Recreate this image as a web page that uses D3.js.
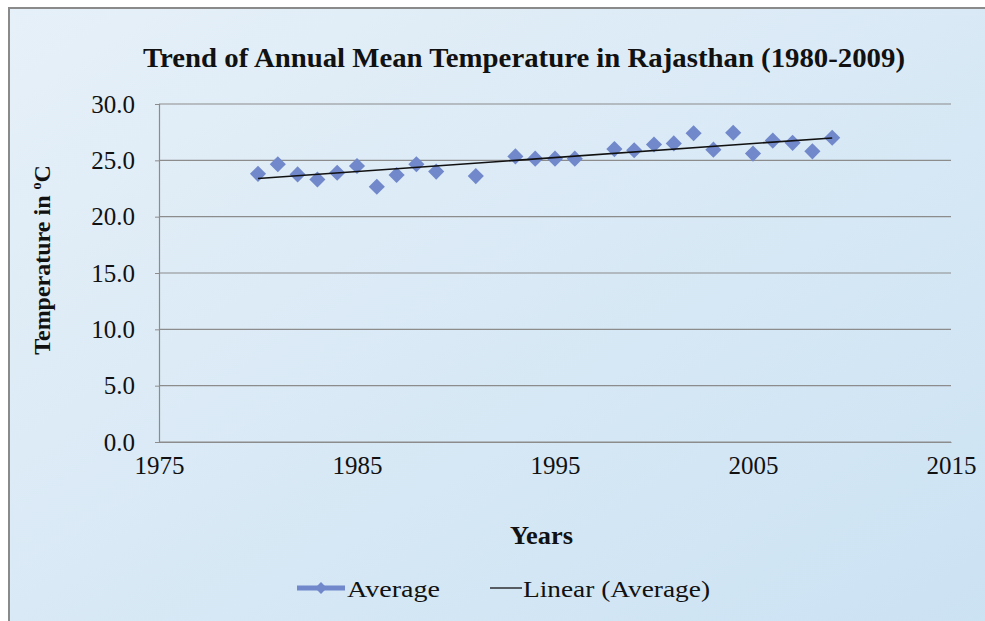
<!DOCTYPE html>
<meta charset="utf-8">
<script src="https://d3js.org/d3.v7.min.js"></script>
<style>
  body { margin: 0; background: #fff; }
  text { font-family: "Liberation Serif", "Times New Roman", serif; fill: #111; }
</style>
<body>
<div id="my_dataviz"></div>
<script>

// data
var years = [1980, 1981, 1982, 1983, 1984, 1985, 1986, 1987, 1988, 1989, 1991, 1993, 1994, 1995, 1996,
             1998, 1999, 2000, 2001, 2002, 2003, 2004, 2005, 2006, 2007, 2008, 2009];
var average = [23.8, 24.65, 23.75, 23.3, 23.9, 24.5, 22.65, 23.7, 24.65, 24.0, 23.6, 25.35, 25.15, 25.15, 25.15,
               26.0, 25.9, 26.4, 26.5, 27.4, 25.95, 27.45, 25.6, 26.75, 26.55, 25.8, 27.0];
var xTicks = [1975, 1985, 1995, 2005, 2015];
var yTicks = [0, 5, 10, 15, 20, 25, 30];

var W = 985, H = 621;
var margin = {top: 104, right: 34, bottom: 179, left: 159},
    width = W - margin.left - margin.right,
    height = H - margin.top - margin.bottom;

var svg = d3.select("#my_dataviz")
  .append("svg")
    .attr("width", W)
    .attr("height", H);

// background gradient
var grad = svg.append("defs").append("linearGradient")
    .attr("id", "bg")
    .attr("x1", "0%").attr("y1", "0%").attr("x2", "100%").attr("y2", "100%");
grad.append("stop").attr("offset", "0%").attr("stop-color", "#e6f0f8");
grad.append("stop").attr("offset", "100%").attr("stop-color", "#cbe2f3");

svg.append("rect")
    .attr("x", 9).attr("y", 8)
    .attr("width", W + 10).attr("height", H + 10)
    .attr("fill", "url(#bg)")
    .attr("stroke", "#8a8a8a")
    .attr("stroke-width", 2);

var g = svg.append("g")
    .attr("transform", "translate(" + margin.left + "," + margin.top + ")");

var x = d3.scaleLinear().domain([1975, 2015]).range([0, width]);
var y = d3.scaleLinear().domain([0, 30]).range([height, 0]);

// gridlines
g.selectAll("line.grid")
  .data(yTicks)
  .enter().append("line")
    .attr("class", "grid")
    .attr("x1", 0).attr("x2", width)
    .attr("y1", function(d) { return y(d); })
    .attr("y2", function(d) { return y(d); })
    .attr("stroke", "#8c8c8c")
    .attr("stroke-width", 1.2);

// Y axis
var yAxis = g.append("g")
    .call(d3.axisLeft(y).tickValues(yTicks).tickFormat(d3.format(".1f")).tickSize(4).tickPadding(20));
yAxis.select(".domain").attr("stroke", "#8c8c8c").attr("stroke-width", 1.2);
yAxis.selectAll(".tick line").attr("stroke", "#8c8c8c");
yAxis.selectAll("text")
    .style("font-size", "25px")
    .style("font-family", "Liberation Serif")
    .attr("fill", "#222");

// X axis
var xAxis = g.append("g")
    .attr("transform", "translate(0," + height + ")")
    .call(d3.axisBottom(x).tickValues(xTicks).tickFormat(d3.format("d")).tickSize(0).tickPadding(14));
xAxis.select(".domain").attr("stroke", "#8c8c8c").attr("stroke-width", 1.2);
xAxis.selectAll("text")
    .style("font-size", "25px")
    .style("font-family", "Liberation Serif")
    .attr("fill", "#222");

// linear trend (least squares on the series)
var mx = d3.mean(years), my = d3.mean(average);
var slope = d3.sum(years, function(v, i) { return (v - mx) * (average[i] - my); }) /
            d3.sum(years, function(v) { return (v - mx) * (v - mx); });
var icpt = my - slope * mx;
var trendX = d3.extent(years);

// diamonds
var diamond = d3.symbol().type(d3.symbolSquare).size(130);
g.append("g")
  .selectAll("path")
  .data(years)
  .enter()
  .append("path")
    .attr("d", diamond)
    .attr("transform", function(d, i) { return "translate(" + x(d) + "," + y(average[i]) + ") rotate(45)"; })
    .attr("fill", "#7188cb");

// trend line drawn over the markers as in the picture
g.append("line")
    .attr("x1", x(trendX[0])).attr("y1", y(icpt + slope * trendX[0]))
    .attr("x2", x(trendX[1])).attr("y2", y(icpt + slope * trendX[1]))
    .attr("stroke", "#111")
    .attr("stroke-width", 1.6);

// title
svg.append("text")
    .attr("x", 143).attr("y", 67)
    .attr("textLength", 762)
    .attr("lengthAdjust", "spacingAndGlyphs")
    .style("font-size", "27px")
    .style("font-weight", "bold")
    .text("Trend of Annual Mean Temperature in Rajasthan (1980-2009)");

// axis titles
svg.append("text")
    .attr("x", 510).attr("y", 544)
    .attr("textLength", 63)
    .attr("lengthAdjust", "spacingAndGlyphs")
    .style("font-size", "25px")
    .style("font-weight", "bold")
    .text("Years");

var yt = svg.append("text")
    .attr("transform", "translate(50,260) rotate(-90)")
    .attr("text-anchor", "middle")
    .style("font-size", "24px")
    .style("font-weight", "bold");
yt.append("tspan").text("Temperature in ");
yt.append("tspan").attr("dy", -9).style("font-size", "14px").text("o");
yt.append("tspan").attr("dy", 9).text("C");

// legend
var lg = svg.append("g").attr("transform", "translate(0,588)");
lg.append("line").attr("x1", 297).attr("x2", 345).attr("y1", 0).attr("y2", 0)
    .attr("stroke", "#7188cb").attr("stroke-width", 5);
lg.append("path").attr("d", d3.symbol().type(d3.symbolSquare).size(70))
    .attr("transform", "translate(321,0) rotate(45)")
    .attr("fill", "#7188cb");
lg.append("text").attr("x", 347).attr("y", 9)
    .attr("textLength", 93).attr("lengthAdjust", "spacingAndGlyphs")
    .style("font-size", "24px").text("Average");
lg.append("line").attr("x1", 490).attr("x2", 522).attr("y1", 0).attr("y2", 0)
    .attr("stroke", "#111").attr("stroke-width", 1.3);
lg.append("text").attr("x", 523).attr("y", 9)
    .attr("textLength", 187).attr("lengthAdjust", "spacingAndGlyphs")
    .style("font-size", "24px").text("Linear (Average)");

</script>
</body>
